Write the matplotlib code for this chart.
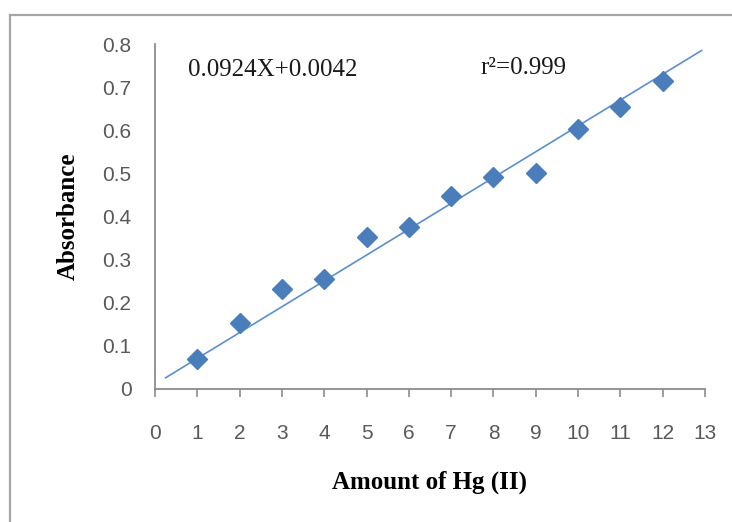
import numpy as np
import matplotlib.pyplot as plt
from matplotlib.lines import Line2D

# data
amount = [1, 2, 3, 4, 5, 6, 7, 8, 9, 10, 11, 12]
absorbance = [0.069, 0.154, 0.231, 0.254, 0.352, 0.375, 0.448, 0.491, 0.500, 0.604, 0.653, 0.714]
trend_x = [0.25, 12.92]
trend_y = [0.026, 0.785]
x_ticks = list(range(0, 14))
y_ticks = [0, 0.1, 0.2, 0.3, 0.4, 0.5, 0.6, 0.7, 0.8]
y_tick_labels = ['0', '0.1', '0.2', '0.3', '0.4', '0.5', '0.6', '0.7', '0.8']

W, H = 732, 522
fig = plt.figure(figsize=(W / 100, H / 100), dpi=100)

# outer chart frame (only left and top edges visible)
frame_col = '#a6a6a6'
fig.add_artist(Line2D([10 / W, 10 / W], [1 - 15 / H, 0], color=frame_col, lw=1.6))
fig.add_artist(Line2D([10 / W, 1], [1 - 15 / H, 1 - 15 / H], color=frame_col, lw=1.6))

ax = fig.add_axes([155 / W, 1 - 389 / H, 550 / W, 345 / H])
ax.set_xlim(0, 13)
ax.set_ylim(0, 0.8)

ax.plot(trend_x, trend_y, color='#5b8fcf', lw=1.2, zorder=2)
ax.plot(amount, absorbance, 'D', color='#4a7ebb', ms=10.5, mec='#4a7ebb', zorder=3)

for s in ['top', 'right']:
    ax.spines[s].set_visible(False)
for s in ['left', 'bottom']:
    ax.spines[s].set_color('#8c8c8c')
    ax.spines[s].set_linewidth(1.3)

tick_col = '#595959'
ax.set_xticks(x_ticks)
ax.set_xticklabels([str(t) for t in x_ticks])
ax.set_yticks(y_ticks)
ax.set_yticklabels(y_tick_labels)
ax.tick_params(axis='x', direction='out', length=6, width=1.2, color='#8c8c8c',
               pad=19, labelsize=15, labelcolor=tick_col)
ax.tick_params(axis='y', length=0, pad=17, labelsize=15, labelcolor=tick_col)
for lab in ax.get_xticklabels() + ax.get_yticklabels():
    lab.set_family('Liberation Sans')

ax.set_xlabel('Amount of Hg (II)', family='Liberation Serif', weight='bold',
              fontsize=18, labelpad=20)
ax.set_ylabel('Absorbance', family='Liberation Serif', weight='bold',
              fontsize=18, labelpad=16)

fig.text(188 / W, 1 - 70 / H, '0.0924X+0.0042', family='Liberation Serif',
         fontsize=18, va='center', ha='left', color='#1a1a1a')
fig.text(480 / W, 1 - 68 / H, 'r²=0.999', family='Liberation Serif',
         fontsize=18, va='center', ha='left', color='#1a1a1a')

fig.savefig('out.png', dpi=100)
